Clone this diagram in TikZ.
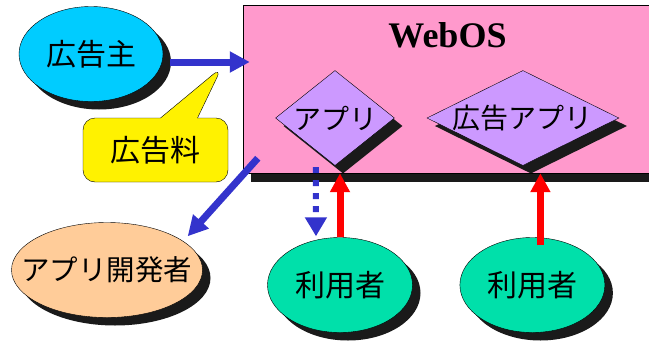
\documentclass[tikz,border=0pt]{standalone}
\usepackage{fontspec}
\setmainfont{Noto Sans CJK JP}
\newfontfamily\webosfont{Liberation Serif}
\usepackage{tikz}
\usetikzlibrary{shapes.geometric, shapes.callouts, arrows.meta, positioning, calc, shadows}
\definecolor{os_pink}{HTML}{FF99CC}
\definecolor{app_violet}{HTML}{CC99FF}
\definecolor{adv_cyan}{HTML}{00CCFF}
\definecolor{dev_peach}{HTML}{FFCC99}
\definecolor{user_green}{HTML}{00E0AA}
\definecolor{flow_blue}{HTML}{3333CC}
\definecolor{shade_black}{HTML}{1A1A1A}
\tikzset{
  jp/.style={font=\fontsize{30}{30}\selectfont,inner sep=0pt},
  jpsmall/.style={font=\fontsize{28}{28}\selectfont,inner sep=0pt},
  title/.style={font=\webosfont\bfseries\fontsize{36}{36}\selectfont,anchor=north,inner sep=0pt,yshift=-18pt},
  shade8/.style={drop shadow={shadow xshift=8pt,shadow yshift=-8pt,fill=shade_black,opacity=1}},
  osbox/.style={rectangle,draw=black,thin,fill=os_pink,minimum width=409pt,minimum height=168pt,
    drop shadow={shadow xshift=8pt,shadow yshift=-9pt,fill=shade_black,opacity=1}},
  appbox/.style={diamond,draw=black,thin,fill=app_violet,minimum height=95pt,inner sep=0pt,shade8},
  actor/.style={ellipse,draw=black,thin,minimum width=144pt,minimum height=95pt,inner sep=0pt,shade8},
  fee/.style={rectangle callout,rounded corners=12pt,draw=black,thin,fill=yellow,
    minimum width=145pt,minimum height=64pt,inner sep=0pt,callout pointer width=37pt},
  flow/.style={draw=flow_blue,line width=7pt,-{Triangle[length=20pt,width=20pt]}},
  dotflow/.style={flow,line width=6pt,dash pattern=on 6pt off 7pt,-{Triangle[length=19pt,width=21pt]}},
  use/.style={draw=red,line width=7pt,-{Triangle[length=19pt,width=19pt]}},
}

\begin{document}
\begin{tikzpicture}[x=1pt,y=-1pt]
	\useasboundingbox (0,0) rectangle (649,346);
	\node[osbox,label={[title]north:WebOS}] (OS) at (447.5,89) {};
	\node[appbox,minimum width=119pt,label={[jpsmall]center:アプリ}] (App) at (335,118) {};
	\node[appbox,minimum width=192pt,right=32pt of App,label={[jpsmall]center:広告アプリ}] (AdApp) {};
	\node[actor,fill=adv_cyan,label={[jp]center:広告主}] (Adv) at (91,54) {};
	\coordinate (FeeTip) at (222,67);
	\node[fee,callout absolute pointer={(FeeTip)},label={[jp]center:広告料}] (Fee) at (155.5,150) {};
	\node[actor,fill=dev_peach,minimum width=191pt,label={[jpsmall,font=\fontsize{28.5}{28.5}\selectfont]center:アプリ開発者}] (Dev) at (107,270) {};
	\node[actor,fill=user_green,minimum width=145pt,label={[jp]center:利用者}] (U1) at (340,285) {};
	\node[actor,fill=user_green,minimum width=145pt,right=47pt of U1,label={[jp]center:利用者}] (U2) {};
	\draw[flow] ($(Adv.east)+(7,8)$) -- ($(Adv.east -| OS.west)+(7,8)$);
	\draw[flow] ($(OS.south west)+(15,-15)$) -- ($(Dev.north east)+(13,0)$);
	\draw[dotflow] ($(OS.south west)+(73,-6)$) -- ($(U1.north)+(-24,-1)$);
	\draw[use] (U1.north) -- (U1.north |- OS.south);
	\draw[use] ($(U2.north)+(8,8)$) -- ($(U2.north |- OS.south)+(8,0)$);
\end{tikzpicture}
\end{document}
